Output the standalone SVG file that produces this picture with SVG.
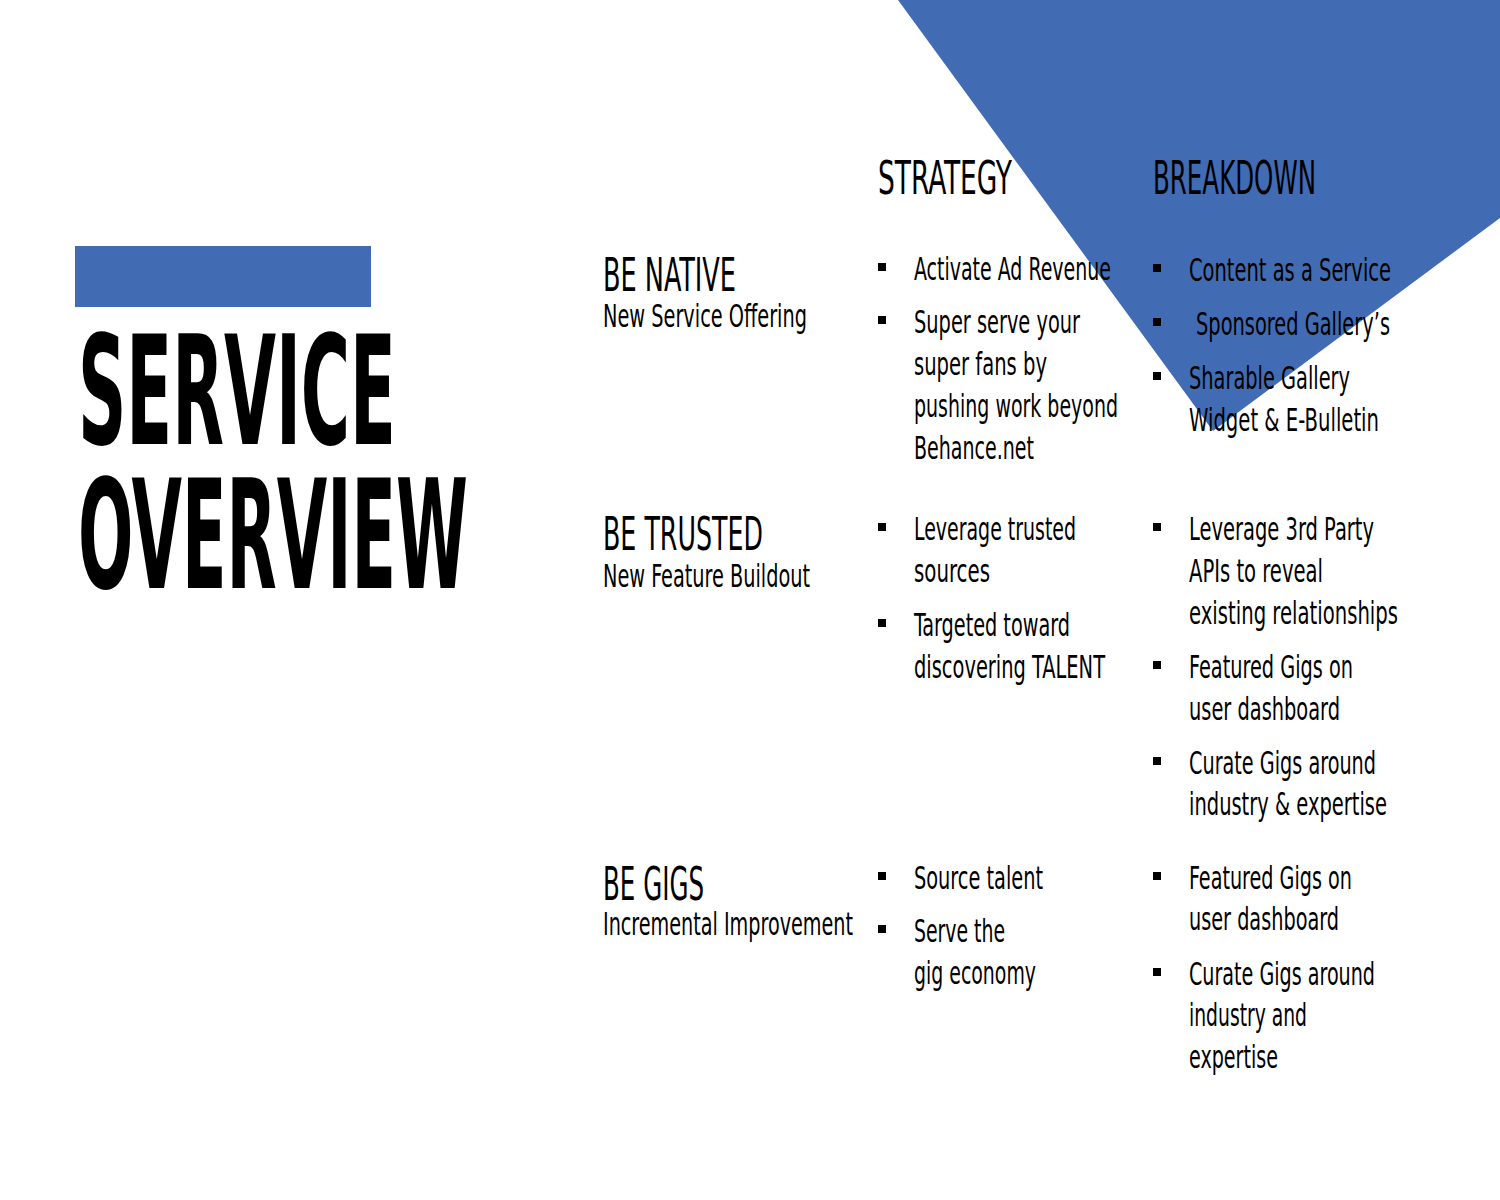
<svg xmlns="http://www.w3.org/2000/svg" width="1500" height="1200" viewBox="0 0 1500 1200">
<style>
text{font-family:"Liberation Sans Narrow","DejaVu Sans Condensed",sans-serif;fill:#000}
.t{font-size:152px;font-weight:bold}
.h{font-size:46px}
.s{font-size:32px}
.b{font-size:32px}
.col{font-size:46px}
.d{fill:#000}
</style>
<defs><rect id="dot" width="8" height="8" class="d"/></defs>
<rect width="1500" height="1200" fill="#fff"/>
<polygon points="898,0 1500,0 1500,218 1213,431" fill="#416bb3"/>
<rect x="75" y="246" width="296" height="61" fill="#416bb3"/>
<g id="title">
<text class="t" x="78" y="444" textLength="318" lengthAdjust="spacingAndGlyphs">SERVICE</text>
<text class="t" x="78" y="588" textLength="390" lengthAdjust="spacingAndGlyphs">OVERVIEW</text>
</g>
<g id="headers">
<text class="col" x="878" y="194" textLength="134" lengthAdjust="spacingAndGlyphs">STRATEGY</text>
<text class="col" x="1153" y="194" textLength="163" lengthAdjust="spacingAndGlyphs">BREAKDOWN</text>
</g>
<g id="bullets">
<use href="#dot" x="878" y="263"/><use href="#dot" x="878" y="316"/>
<use href="#dot" x="878" y="523"/><use href="#dot" x="878" y="619"/>
<use href="#dot" x="878" y="872"/><use href="#dot" x="878" y="925"/>
<use href="#dot" x="1153" y="264"/><use href="#dot" x="1153" y="318"/><use href="#dot" x="1153" y="372"/>
<use href="#dot" x="1153" y="523"/><use href="#dot" x="1153" y="661"/><use href="#dot" x="1153" y="757"/>
<use href="#dot" x="1153" y="872"/><use href="#dot" x="1153" y="968"/>
</g>
<g id="native">
<text class="h" x="603" y="291" textLength="133" lengthAdjust="spacingAndGlyphs">BE NATIVE</text>
<text class="s" x="603" y="327" textLength="204" lengthAdjust="spacingAndGlyphs">New Service Offering</text>
<text class="b" x="914" y="280" textLength="197" lengthAdjust="spacingAndGlyphs">Activate Ad Revenue</text>
<text class="b" x="914" y="333" textLength="166" lengthAdjust="spacingAndGlyphs">Super serve your</text>
<text class="b" x="914" y="375" textLength="133" lengthAdjust="spacingAndGlyphs">super fans by</text>
<text class="b" x="914" y="417" textLength="204" lengthAdjust="spacingAndGlyphs">pushing work beyond</text>
<text class="b" x="914" y="459" textLength="120" lengthAdjust="spacingAndGlyphs">Behance.net</text>
<text class="b" x="1189" y="281" textLength="202" lengthAdjust="spacingAndGlyphs">Content as a Service</text>
<text class="b" x="1196" y="335" textLength="194" lengthAdjust="spacingAndGlyphs">Sponsored Gallery’s</text>
<text class="b" x="1189" y="389" textLength="161" lengthAdjust="spacingAndGlyphs">Sharable Gallery</text>
<text class="b" x="1189" y="431" textLength="190" lengthAdjust="spacingAndGlyphs">Widget &amp; E-Bulletin</text>
</g>
<g id="trusted">
<text class="h" x="603" y="550" textLength="160" lengthAdjust="spacingAndGlyphs">BE TRUSTED</text>
<text class="s" x="603" y="587" textLength="207" lengthAdjust="spacingAndGlyphs">New Feature Buildout</text>
<text class="b" x="914" y="540" textLength="162" lengthAdjust="spacingAndGlyphs">Leverage trusted</text>
<text class="b" x="914" y="582" textLength="76" lengthAdjust="spacingAndGlyphs">sources</text>
<text class="b" x="914" y="636" textLength="156" lengthAdjust="spacingAndGlyphs">Targeted toward</text>
<text class="b" x="914" y="678" textLength="191" lengthAdjust="spacingAndGlyphs">discovering TALENT</text>
<text class="b" x="1189" y="540" textLength="185" lengthAdjust="spacingAndGlyphs">Leverage 3rd Party</text>
<text class="b" x="1189" y="582" textLength="134" lengthAdjust="spacingAndGlyphs">APIs to reveal</text>
<text class="b" x="1189" y="624" textLength="209" lengthAdjust="spacingAndGlyphs">existing relationships</text>
<text class="b" x="1189" y="678" textLength="164" lengthAdjust="spacingAndGlyphs">Featured Gigs on</text>
<text class="b" x="1189" y="720" textLength="151" lengthAdjust="spacingAndGlyphs">user dashboard</text>
<text class="b" x="1189" y="774" textLength="187" lengthAdjust="spacingAndGlyphs">Curate Gigs around</text>
<text class="b" x="1189" y="815" textLength="198" lengthAdjust="spacingAndGlyphs">industry &amp; expertise</text>
</g>
<g id="gigs">
<text class="h" x="603" y="900" textLength="101" lengthAdjust="spacingAndGlyphs">BE GIGS</text>
<text class="s" x="603" y="935" textLength="250" lengthAdjust="spacingAndGlyphs">Incremental Improvement</text>
<text class="b" x="914" y="889" textLength="129" lengthAdjust="spacingAndGlyphs">Source talent</text>
<text class="b" x="914" y="942" textLength="91" lengthAdjust="spacingAndGlyphs">Serve the</text>
<text class="b" x="914" y="984" textLength="122" lengthAdjust="spacingAndGlyphs">gig economy</text>
<text class="b" x="1189" y="889" textLength="163" lengthAdjust="spacingAndGlyphs">Featured Gigs on</text>
<text class="b" x="1189" y="930" textLength="150" lengthAdjust="spacingAndGlyphs">user dashboard</text>
<text class="b" x="1189" y="985" textLength="186" lengthAdjust="spacingAndGlyphs">Curate Gigs around</text>
<text class="b" x="1189" y="1026" textLength="118" lengthAdjust="spacingAndGlyphs">industry and</text>
<text class="b" x="1189" y="1068" textLength="89" lengthAdjust="spacingAndGlyphs">expertise</text>
</g>
</svg>
